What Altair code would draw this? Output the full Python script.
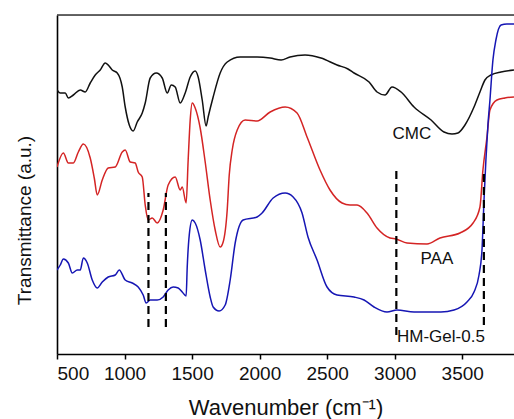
import altair as alt
import pandas as pd

# ---- data (wavenumber cm^-1, transmittance a.u.) ----
cmc_wn = [500, 524, 561, 584, 621, 672, 709, 746, 783, 820, 857, 879, 909, 946, 983, 1005,
          1035, 1064, 1094, 1131, 1153, 1190, 1235, 1279, 1316, 1346, 1375, 1412, 1449, 1486,
          1523, 1545, 1575, 1604, 1619, 1656, 1708, 1760, 1856, 1981, 2078, 2159, 2225, 2336,
          2454, 2573, 2654, 2699, 2810, 2869, 2928, 2980, 3047, 3143, 3269, 3365, 3424, 3468,
          3520, 3587, 3631, 3668, 3713, 3787, 3883]
cmc_t = [264, 261, 261, 256, 259, 264, 262, 271, 279, 284, 291, 289, 284, 281, 267, 247,
         229, 223, 232, 241, 251, 276, 281, 276, 261, 269, 267, 251, 261, 277,
         283, 277, 254, 228, 237, 257, 281, 292, 297, 297, 296, 294, 297, 299,
         296, 289, 285, 281, 272, 262, 259, 267, 262, 247, 234, 222, 220, 221,
         229, 247, 262, 274, 279, 282, 284]

paa_wn = [500, 547, 584, 621, 658, 695, 746, 776, 798, 835, 879, 931, 983, 1005, 1042, 1079,
          1101, 1131, 1153, 1175, 1205, 1242, 1286, 1323, 1375, 1412, 1427, 1456, 1471, 1486,
          1501, 1523, 1560, 1597, 1634, 1671, 1708, 1730, 1760, 1775, 1797, 1834, 1893, 1981,
          2078, 2189, 2277, 2351, 2447, 2521, 2610, 2669, 2721, 2795, 2869, 2965, 3010, 3091,
          3239, 3335, 3483, 3580, 3631, 3653, 3683, 3705, 3757, 3816, 3883]
paa_t = [187, 201, 191, 191, 202, 210, 196, 176, 159, 174, 186, 187, 202, 204, 192, 191,
         182, 177, 149, 134, 136, 131, 144, 169, 177, 164, 167, 151, 194, 234,
         251, 246, 226, 192, 154, 124, 107, 112, 144, 179, 204, 224, 234, 233,
         242, 247, 241, 217, 184, 164, 151, 149, 149, 141, 126, 116, 115, 111,
         110, 116, 121, 131, 147, 184, 217, 244, 254, 256, 257]

gel_wn = [500, 524, 547, 584, 613, 650, 672, 695, 724, 761, 798, 835, 879, 931, 961, 1005,
          1057, 1101, 1138, 1160, 1190, 1242, 1286, 1323, 1360, 1397, 1427, 1456, 1464, 1479,
          1501, 1523, 1560, 1597, 1634, 1656, 1700, 1745, 1782, 1819, 1878, 1981, 2018, 2100,
          2189, 2248, 2314, 2358, 2425, 2499, 2573, 2699, 2773, 2847, 2943, 3017, 3143, 3342,
          3439, 3535, 3587, 3624, 3646, 3661, 3675, 3690, 3705, 3727, 3749, 3787, 3831, 3883]
gel_t = [84, 89, 95, 91, 81, 84, 84, 96, 91, 74, 66, 72, 77, 79, 84, 74,
         71, 67, 59, 51, 54, 54, 57, 64, 67, 66, 62, 58, 87, 119,
         134, 131, 114, 84, 57, 47, 43, 49, 74, 111, 134, 137, 141, 156,
         161, 157, 141, 117, 94, 67, 59, 57, 54, 47, 42, 44, 42, 42,
         44, 52, 62, 79, 104, 154, 194, 229, 254, 294, 314, 329, 330, 330]

series_names = ["CMC", "PAA", "HM-Gel-0.5"]
series_colors = ["#111111", "#d42424", "#1616b4"]

# dashed marker lines
mark_wn = [1177, 1306, 3012, 3660]
mark_lo = [27, 27, 19, 29]
mark_hi = [161, 161, 184, 184]

# curve labels
label_text = ["CMC", "PAA", "HM-Gel-0.5"]
label_wn = [3127, 3312, 3342]
label_t = [220, 95, 17]

x_major = [500, 1000, 1500, 2000, 2500, 3000, 3500]
x_all_ticks = list(range(500, 4000, 250))

# ---- build tables ----
frames = []
for name, wn, t in [("CMC", cmc_wn, cmc_t), ("PAA", paa_wn, paa_t), ("HM-Gel-0.5", gel_wn, gel_t)]:
    frames.append(pd.DataFrame({"wn": wn, "t": t, "series": name}))
spec_df = pd.concat(frames, ignore_index=True)
dash_df = pd.DataFrame({"wn": mark_wn, "lo": mark_lo, "hi": mark_hi})
lab_df = pd.DataFrame({"text": label_text, "wn": label_wn, "t": label_t})

W, H = 457, 339
FONT = "Liberation Sans"

xscale = alt.Scale(domain=[500, 3883], nice=False, zero=False)
yscale = alt.Scale(domain=[0, 339], nice=False, zero=False)

xaxis = alt.Axis(
    values=x_all_ticks,
    format="d",
    labelExpr="datum.value % 500 == 0 ? datum.label : ''",
    tickSize={"condition": {"test": "datum.value % 500 == 0", "value": 5}, "value": 3},
    tickColor="#000", tickWidth=1.5, domainColor="#000", domainWidth=1.6,
    labelFont=FONT, labelFontSize=19, labelColor="#111", labelPadding=5,
    grid=False, title="Wavenumber (cm⁻¹)", titleFont=FONT, titleFontSize=22,
    titleFontWeight="normal", titleColor="#111", titlePadding=14,
)
yaxis = alt.Axis(
    ticks=False, labels=False, grid=False, domainColor="#000", domainWidth=1.6,
    title="Transmittance (a.u.)", titleFont=FONT, titleFontSize=19,
    titleFontWeight="normal", titleColor="#111", titlePadding=23, titleY=205,
    titleAlign="center",
)

lines = alt.Chart(spec_df).mark_line(strokeWidth=1.5, interpolate="monotone", clip=True).encode(
    x=alt.X("wn:Q", scale=xscale, axis=xaxis),
    y=alt.Y("t:Q", scale=yscale, axis=yaxis),
    color=alt.Color("series:N", scale=alt.Scale(domain=series_names, range=series_colors), legend=None),
    order=alt.Order("wn:Q"),
)

dashes = alt.Chart(dash_df).mark_rule(strokeDash=[8, 5], strokeWidth=2.2, color="#000").encode(
    x=alt.X("wn:Q", scale=xscale),
    y=alt.Y("lo:Q", scale=yscale),
    y2="hi:Q",
)

labels = alt.Chart(lab_df).mark_text(font=FONT, fontSize=17, color="#111", align="center",
                                      baseline="middle").encode(
    x=alt.X("wn:Q", scale=xscale),
    y=alt.Y("t:Q", scale=yscale),
    text="text:N",
)

top_border = alt.Chart(pd.DataFrame({"a": [0]})).mark_rule(color="#333", strokeWidth=1.5).encode(
    x=alt.value(0), x2=alt.value(W), y=alt.value(0)
)

chart = alt.layer(lines, dashes, labels, top_border).properties(
    width=W, height=H,
    autosize=alt.AutoSizeParams(type="none"),
    padding={"left": 57, "top": 15, "right": 0, "bottom": 65},
).configure_view(stroke=None).configure(background="white")

chart.save("out.html", embed_options={"renderer": "svg", "actions": False})
